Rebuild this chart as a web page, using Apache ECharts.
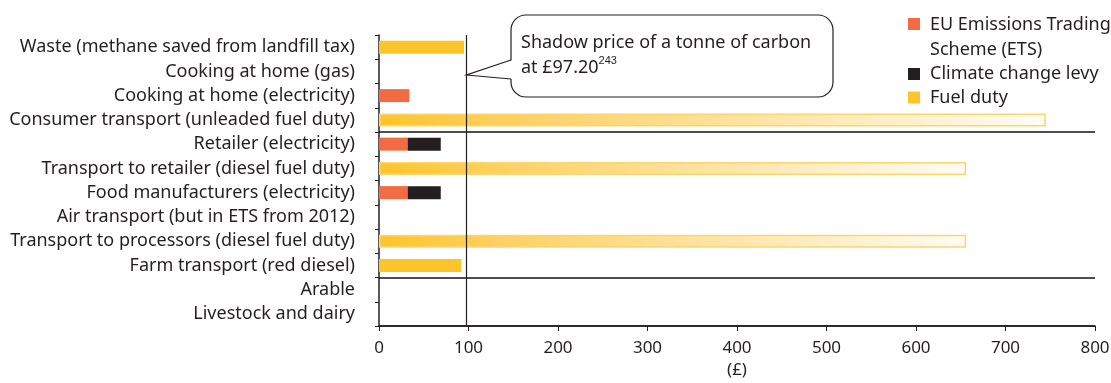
<!DOCTYPE html>
<html>
<head>
<meta charset="utf-8">
<script src="https://cdn.jsdelivr.net/npm/echarts@6/dist/echarts.min.js"></script>
<style>
  html, body { margin: 0; padding: 0; background: #fff; }
  #chart { width: 1111px; height: 383px; }
</style>
</head>
<body>
<div id="chart"></div>
<script>
// categories, top to bottom
const categories = [
  'Waste (methane saved from landfill tax)',
  'Cooking at home (gas)',
  'Cooking at home (electricity)',
  'Consumer transport (unleaded fuel duty)',
  'Retailer (electricity)',
  'Transport to retailer (diesel fuel duty)',
  'Food manufacturers (electricity)',
  'Air transport (but in ETS from 2012)',
  'Transport to processors (diesel fuel duty)',
  'Farm transport (red diesel)',
  'Arable',
  'Livestock and dairy'
]
const etsValues = [0, 0, 34, 0, 32, 0, 32, 0, 0, 0, 0, 0]
const levyValues = [0, 0, 0, 0, 37, 0, 37, 0, 0, 0, 0, 0]
const fuelDutyValues = [95, 0, 0, 745, 0, 656, 0, 0, 656, 92, 0, 0]
const xTicks = [0, 100, 200, 300, 400, 500, 600, 700, 800]
const shadowPrice = 97.2
const groupBreaks = [4, 10] // tick index where a new group starts

const ETS_NAME = 'EU Emissions Trading\nScheme (ETS)'
const FONT = 'Noto Sans'
const ORANGE = '#f26b43'
const BLACK = '#231f20'
const YELLOW = '#fdc52a'

const fadeFill = new echarts.graphic.LinearGradient(0, 0, 1, 0, [
  { offset: 0, color: '#fdc52a' },
  { offset: 0.2, color: '#fdd061' },
  { offset: 1, color: '#fffcf4' }
])

const chart = echarts.init(document.getElementById('chart'), null, { renderer: 'canvas' })

const legendText = { fontSize: 18, color: BLACK, fontFamily: FONT, lineHeight: 25, padding: [0, 0, 0, 5] }

const option = {
  animation: false,
  textStyle: { fontFamily: FONT },
  grid: { left: 379, right: 16, top: 35, bottom: 57, containLabel: false, outerBoundsMode: 'none' },
  legend: [
    {
      // two-line entry, square sits on the first line
      orient: 'vertical',
      left: 908,
      top: 12,
      padding: 0,
      itemWidth: 12,
      itemHeight: 50,
      symbolKeepAspect: false,
      icon: 'path://M0,6H12V18H0Z M0,0h0.01v0.01h-0.01Z M0,50h0.01v0.01h-0.01Z',
      textStyle: legendText,
      data: [ETS_NAME]
    },
    {
      orient: 'vertical',
      left: 908,
      top: 61.5,
      padding: 0,
      itemWidth: 12,
      itemHeight: 12,
      itemGap: -1.5,
      icon: 'rect',
      textStyle: legendText,
      data: ['Climate change levy', 'Fuel duty']
    }
  ],
  xAxis: {
    type: 'value',
    min: 0,
    max: 800,
    interval: 100,
    name: '(£)',
    nameLocation: 'middle',
    nameGap: 36,
    nameTextStyle: { fontSize: 17, color: BLACK },
    axisLine: { show: true, lineStyle: { color: BLACK, width: 1.5 } },
    axisTick: { show: true, length: 5, lineStyle: { color: BLACK } },
    axisLabel: {
      fontSize: 17,
      color: BLACK,
      margin: 14,
      formatter: (v) => (xTicks.includes(v) ? String(v) : '')
    },
    splitLine: { show: false }
  },
  yAxis: {
    type: 'category',
    inverse: true,
    data: categories,
    axisLine: { show: true, lineStyle: { color: BLACK, width: 1.5 } },
    axisTick: { show: true, interval: 0, length: 4, lineStyle: { color: BLACK } },
    axisLabel: { interval: 0, fontSize: 18, color: BLACK, margin: 24 },
    splitLine: {
      show: true,
      interval: (index) => groupBreaks.includes(index),
      lineStyle: { color: '#4d4d4d', width: 2 }
    }
  },
  series: [
    {
      name: ETS_NAME,
      type: 'bar',
      stack: 'total',
      barWidth: 13,
      itemStyle: { color: ORANGE },
      data: etsValues
    },
    {
      name: 'Climate change levy',
      type: 'bar',
      stack: 'total',
      barWidth: 13,
      itemStyle: { color: BLACK },
      data: levyValues
    },
    {
      name: 'Fuel duty',
      type: 'bar',
      stack: 'total',
      barWidth: 13,
      itemStyle: { color: YELLOW },
      // long fuel duty bars fade out to the right
      data: fuelDutyValues.map((v) =>
        v > 200
          ? { value: v, itemStyle: { color: fadeFill, borderColor: '#fdd56e', borderWidth: 1.5 } }
          : v
      ),
      markLine: {
        silent: true,
        symbol: 'none',
        label: { show: false },
        lineStyle: { color: BLACK, width: 1.2, type: 'solid' },
        data: [{ xAxis: shadowPrice }]
      }
    }
  ]
}

chart.setOption(option)

// callout pointing at the shadow price line
const px = chart.convertToPixel({ xAxisIndex: 0 }, shadowPrice)
chart.setOption({
  graphic: [
    {
      type: 'rect',
      shape: { x: 511, y: 15, width: 322, height: 82, r: 15 },
      style: { fill: '#fff', stroke: BLACK, lineWidth: 1.2 },
      z: 10
    },
    {
      type: 'polygon',
      shape: { points: [[512.5, 60], [px + 2, 75], [512.5, 79]] },
      style: { fill: '#fff', stroke: null },
      z: 11
    },
    {
      type: 'polyline',
      shape: { points: [[511, 60], [px + 0.5, 75], [511, 79]] },
      style: { stroke: BLACK, lineWidth: 1.2, fill: null },
      z: 12
    },
    {
      type: 'text',
      left: 521,
      top: 30,
      style: {
        text: 'Shadow price of a tonne of carbon\nat £97.20{s|243}',
        rich: { s: { fontSize: 11, verticalAlign: 'top', padding: [0, 0, 8, 0] } },
        fontSize: 18,
        lineHeight: 25,
        fontFamily: FONT,
        fill: BLACK
      },
      z: 13
    }
  ]
})

window.addEventListener('resize', () => chart.resize())
</script>
</body>
</html>
